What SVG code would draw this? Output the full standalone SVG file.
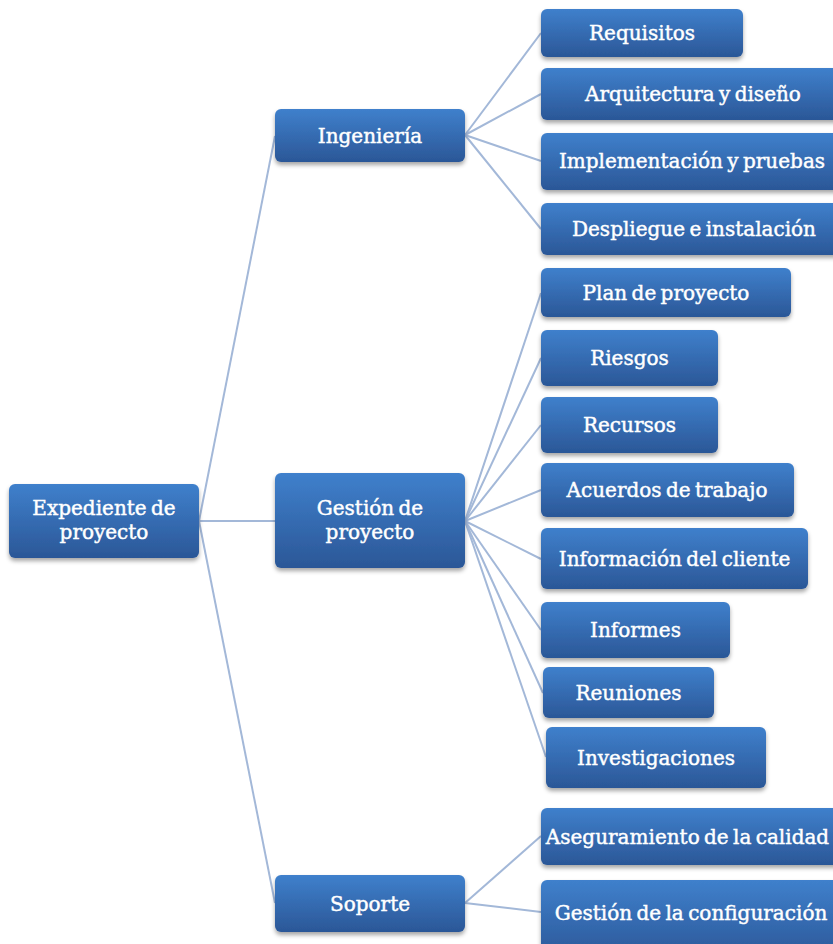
<svg xmlns="http://www.w3.org/2000/svg" width="833" height="944" viewBox="0 0 833 944">
<defs>
<linearGradient id="g" x1="0" y1="0" x2="0" y2="1">
<stop offset="0" stop-color="#3f80cc"/>
<stop offset="1" stop-color="#2b5797"/>
</linearGradient>
<filter id="sh" x="-10%" y="-20%" width="120%" height="150%">
<feDropShadow dx="0" dy="3" stdDeviation="2.2" flood-color="#000" flood-opacity="0.35"/>
</filter>
</defs>
<style>
.b{fill:url(#g);filter:url(#sh)}
.t{fill:#fff;stroke:#fff;stroke-width:0.45;font-family:"DejaVu Serif","Liberation Serif",serif;font-size:20px;text-anchor:middle;word-spacing:-2px}
.c line{stroke:#a3b8d8;stroke-width:2}
</style>
<rect width="833" height="944" fill="#fff"/>
<g class="c" id="connectors">
<line x1="199" y1="521" x2="275" y2="136"/>
<line x1="199" y1="521" x2="275" y2="521"/>
<line x1="199" y1="521" x2="275" y2="903"/>
<line x1="465" y1="135" x2="541" y2="33"/>
<line x1="465" y1="135" x2="541" y2="94"/>
<line x1="465" y1="135" x2="541" y2="161"/>
<line x1="465" y1="135" x2="541" y2="229"/>
<line x1="465" y1="521" x2="541" y2="293"/>
<line x1="465" y1="521" x2="541" y2="358"/>
<line x1="465" y1="521" x2="541" y2="425"/>
<line x1="465" y1="521" x2="541" y2="490"/>
<line x1="465" y1="521" x2="541" y2="559"/>
<line x1="465" y1="521" x2="541" y2="630"/>
<line x1="465" y1="521" x2="543" y2="693"/>
<line x1="465" y1="521" x2="546" y2="757"/>
<line x1="465" y1="903" x2="541" y2="836"/>
<line x1="465" y1="903" x2="541" y2="912"/>
</g>
<g id="root"><rect class="b" x="9" y="484" width="190" height="74" rx="6"/><text class="t" x="104" y="515">Expediente de</text><text class="t" x="104" y="539">proyecto</text></g>
<g id="ingenieria"><rect class="b" x="275" y="109" width="190" height="53" rx="6"/><text class="t" x="370" y="143">Ingeniería</text></g>
<g id="gestion"><rect class="b" x="275" y="473" width="190" height="95" rx="6"/><text class="t" x="370" y="515">Gestión de</text><text class="t" x="370" y="539">proyecto</text></g>
<g id="soporte"><rect class="b" x="275" y="875" width="190" height="57" rx="6"/><text class="t" x="370" y="911">Soporte</text></g>
<g id="requisitos"><rect class="b" x="541" y="9" width="202" height="48" rx="6"/><text class="t" x="642" y="40">Requisitos</text></g>
<g id="arquitectura"><rect class="b" x="541" y="68" width="304" height="52" rx="6"/><text class="t" x="693" y="101">Arquitectura y diseño</text></g>
<g id="implementacion"><rect class="b" x="541" y="133" width="304" height="57" rx="6"/><text class="t" x="692" y="168">Implementación y pruebas</text></g>
<g id="despliegue"><rect class="b" x="541" y="203" width="304" height="52" rx="6"/><text class="t" x="694" y="236">Despliegue e instalación</text></g>
<g id="plan"><rect class="b" x="541" y="268" width="250" height="49" rx="6"/><text class="t" x="666" y="300">Plan de proyecto</text></g>
<g id="riesgos"><rect class="b" x="541" y="330" width="177" height="56" rx="6"/><text class="t" x="629.5" y="365">Riesgos</text></g>
<g id="recursos"><rect class="b" x="541" y="397" width="177" height="56" rx="6"/><text class="t" x="629.5" y="432">Recursos</text></g>
<g id="acuerdos"><rect class="b" x="541" y="463" width="253" height="54" rx="6"/><text class="t" x="667" y="497">Acuerdos de trabajo</text></g>
<g id="informacion"><rect class="b" x="541" y="528" width="267" height="61" rx="6"/><text class="t" x="674.5" y="566">Información del cliente</text></g>
<g id="informes"><rect class="b" x="541" y="602" width="189" height="56" rx="6"/><text class="t" x="635.5" y="637">Informes</text></g>
<g id="reuniones"><rect class="b" x="543" y="667" width="171" height="51" rx="6"/><text class="t" x="628.5" y="700">Reuniones</text></g>
<g id="investigaciones"><rect class="b" x="546" y="727" width="220" height="61" rx="6"/><text class="t" x="656" y="765">Investigaciones</text></g>
<g id="aseguramiento"><rect class="b" x="541" y="808" width="304" height="57" rx="6"/><text class="t" x="687.5" y="844">Aseguramiento de la calidad</text></g>
<g id="configuracion"><rect class="b" x="541" y="880" width="304" height="80" rx="6"/><text class="t" x="691" y="920">Gestión de la configuración</text></g>
</svg>
